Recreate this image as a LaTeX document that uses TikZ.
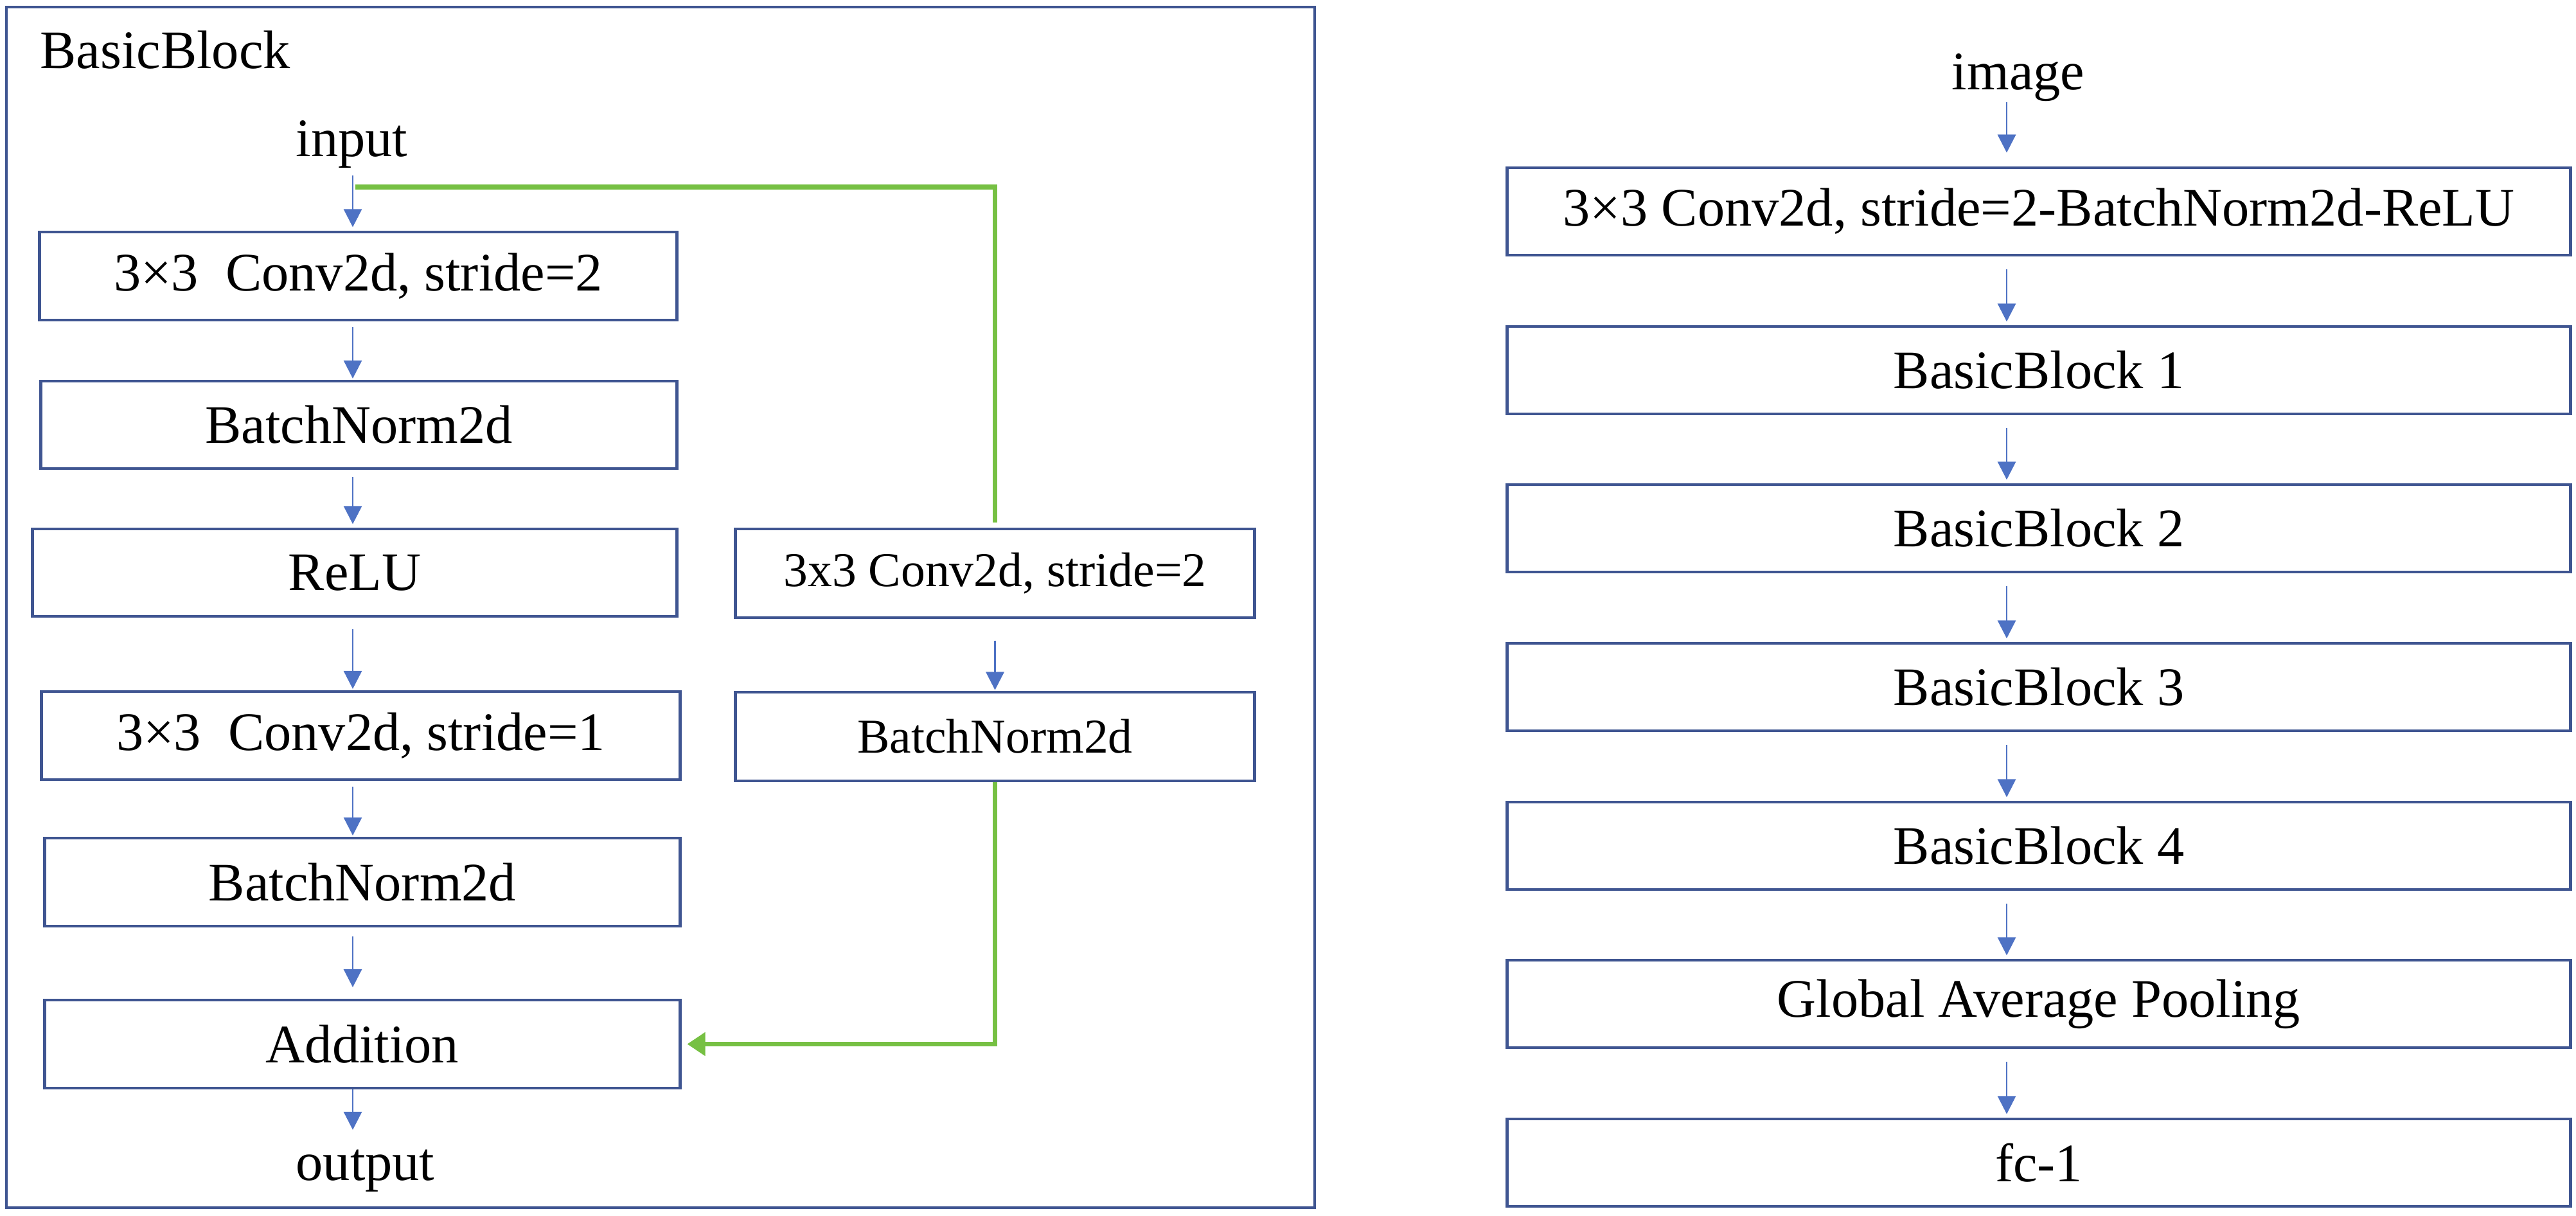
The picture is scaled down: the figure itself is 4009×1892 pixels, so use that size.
\documentclass[tikz,border=0pt]{standalone}
\usepackage{fontspec}
\setmainfont{Liberation Serif}
\usetikzlibrary{arrows.meta,calc}
\definecolor{boxc}{RGB}{63,85,145}
\definecolor{arrc}{RGB}{78,114,196}
\definecolor{grn}{RGB}{118,192,67}
\begin{document}
\begin{tikzpicture}[x=0.01cm,y=-0.01cm,
  blk/.style={draw=boxc, line width=1.3pt, inner sep=0pt, font=\fontsize{24pt}{28pt}\selectfont},
  sblk/.style={blk, font=\fontsize{21.5pt}{26pt}\selectfont},
  lbl/.style={inner sep=0pt, font=\fontsize{24pt}{28pt}\selectfont},
  arr/.style={draw=arrc, line width=0.8pt, -{Triangle[length=8pt,width=8pt,fill=arrc]}},
  garr/.style={draw=grn, line width=2pt}]
\useasboundingbox (0,0) rectangle (4009,1892);
% outer frame
\draw[boxc, line width=1.2pt] (10,11) rectangle (2046,1879);
\node[lbl, anchor=base west] (title) at (62,107) {BasicBlock};
\node[lbl, anchor=base west] (in) at (460,244) {input};
\node[lbl, anchor=base west] (out) at (460,1836) {output};
% main column
\node[blk, minimum width=9.91cm, minimum height=1.37cm] (c1) at (557.5,429.5) {3×3\ \ Conv2d, stride=2};
\node[blk, minimum width=9.89cm, minimum height=1.36cm] (b1) at (558.5,661) {BatchNorm2d};
\node[blk, minimum width=10.02cm, minimum height=1.36cm] (r1) at (552,891) {ReLU};
\node[blk, minimum width=9.93cm, minimum height=1.37cm] (c2) at (561.5,1144.5) {3×3\ \ Conv2d, stride=1};
\node[blk, minimum width=9.88cm, minimum height=1.37cm] (b2) at (564,1372.5) {BatchNorm2d};
\node[blk, minimum width=9.88cm, minimum height=1.37cm] (add) at (564,1624.5) {Addition};
% shortcut column
\node[sblk, minimum width=8.07cm, minimum height=1.38cm] (sc) at (1548.5,892) {3x3 Conv2d, stride=2};
\node[sblk, minimum width=8.07cm, minimum height=1.38cm] (sb) at (1548.5,1146) {BatchNorm2d};
\coordinate (ax) at (549,0);
\draw[arr, shorten <=3pt, shorten >=1.5pt] (in.south -| ax) -- (c1.north -| ax);
\draw[arr, shorten <=2.5pt, shorten >=0.5pt] (c1.south -| ax) -- (b1.north -| ax);
\draw[arr, shorten <=3pt, shorten >=1.5pt] (b1.south -| ax) -- (r1.north -| ax);
\draw[arr, shorten <=5pt, shorten >=0.5pt] (r1.south -| ax) -- (c2.north -| ax);
\draw[arr, shorten <=2.5pt, shorten >=0.5pt] (c2.south -| ax) -- (b2.north -| ax);
\draw[arr, shorten <=4pt, shorten >=5pt] (b2.south -| ax) -- (add.north -| ax);
\draw[arr, shorten >=8.5pt] (add.south -| ax) -- (out.north -| ax);
\draw[arr, shorten <=9.5pt, shorten >=0.3pt] (sc.south) -- (sb.north);
% green shortcut
\coordinate (gs) at (553,291);
\draw[garr, shorten >=2.3pt] (gs) -- (gs -| sc.north) -- (sc.north);
\draw[garr, shorten >=2.5pt, -{Triangle[length=8pt,width=10pt]}] (sb.south) |- (add.east);
% right column
\node[lbl, anchor=base] (img) at (3141,140) {image};
\node[blk, minimum width=16.54cm, minimum height=1.36cm] (r0) at (3173,329) {3×3 Conv2d, stride=2-BatchNorm2d-ReLU};
\node[blk, minimum width=16.54cm, minimum height=1.36cm] (bb1) at (3173,576) {BasicBlock 1};
\node[blk, minimum width=16.54cm, minimum height=1.36cm] (bb2) at (3173,822) {BasicBlock 2};
\node[blk, minimum width=16.54cm, minimum height=1.36cm] (bb3) at (3173,1069) {BasicBlock 3};
\node[blk, minimum width=16.54cm, minimum height=1.36cm] (bb4) at (3173,1316) {BasicBlock 4};
\node[blk, minimum width=16.54cm, minimum height=1.36cm] (gap) at (3173,1562) {Global Average Pooling};
\node[blk, minimum width=16.54cm, minimum height=1.36cm] (fc) at (3173,1809) {fc-1};
\coordinate (bx) at (3123,0);
\draw[arr, shorten >=6pt] (img.south -| bx) -- (r0.north -| bx);
\foreach \a/\b in {r0/bb1,bb1/bb2,bb2/bb3,bb3/bb4,bb4/gap,gap/fc}
  \draw[arr, shorten <=5.7pt, shorten >=1.5pt] (\a.south -| bx) -- (\b.north -| bx);
\end{tikzpicture}
\end{document}
